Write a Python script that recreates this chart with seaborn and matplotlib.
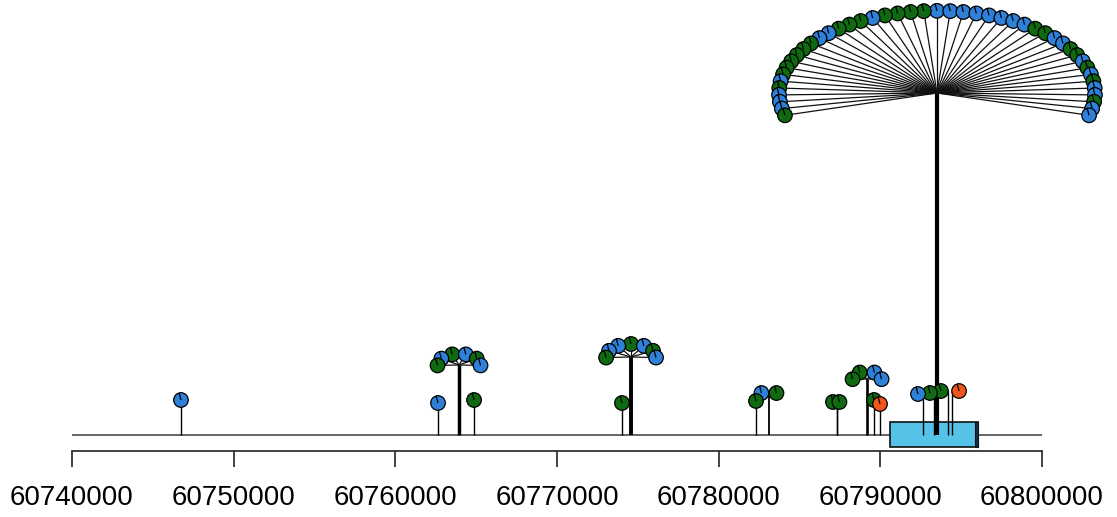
import numpy as np
import pandas as pd
import matplotlib
matplotlib.use("Agg")
import matplotlib.pyplot as plt
from matplotlib.path import Path
from matplotlib.patches import Rectangle
import seaborn as sns

# genomic axis
axis_ticks = [60740000, 60750000, 60760000, 60770000, 60780000, 60790000, 60800000]

# mutation sites: genomic position of the stem, drawn head position, stem height
site_pos = [60746740, 60762640, 60763940, 60764870, 60774020, 60774580, 60782310,
            60783110, 60787320, 60787320, 60789180, 60789610, 60789980, 60792640,
            60793320, 60794190, 60794430, 60793505]
head_pos = [60746740, 60762640, 60763940, 60764870, 60774020, 60774580, 60782310,
            60783110, 60787070, 60787470, 60789180, 60789610, 60789980, 60792330,
            60793070, 60793750, 60794870, 60793505]
site_height = [35, 32, 70, 35, 32, 78, 34, 42, 33, 33, 56, 35, 31, 41, 42, 44, 44, 342]

# mutation classes at each site (A, B, C), listed left to right around the fan
big_fan = ("B A A A B A B B B B B B A A B B B A B B B B "
           "A "
           "A A A A A A A B B A A B B A B A B A A B A A").split()
site_classes = [
    ["A"], ["A"], ["B", "A", "B", "A", "B", "A"], ["B"], ["B"],
    ["B", "A", "A", "B", "A", "B", "A"], ["B"], ["A", "B"], ["B"], ["B"],
    ["B", "B", "A", "A"], ["B"], ["C"], ["A"], ["B"], ["B"], ["C"], big_fan,
]

# transcript feature
feature_start, feature_end = 60790597, 60796040
feature_cap_start = 60795847

class_colors = {"A": "#2F80D8", "B": "#0F6A12", "C": "#F0561A"}

sns.set_theme(style="white")
plt.rcParams["font.family"] = ["Liberation Sans", "DejaVu Sans"]

fig_w_px, fig_h_px = 1117, 517
fig = plt.figure(figsize=(fig_w_px / 100, fig_h_px / 100), dpi=100)
ax = fig.add_axes([0, 0, 1, 1])

left_px, right_px = 72, 1042
bp_per_px = (axis_ticks[-1] - axis_ticks[0]) / (right_px - left_px)
ax.set_xlim(axis_ticks[0] - left_px * bp_per_px,
            axis_ticks[0] + (fig_w_px - left_px) * bp_per_px)
ax.set_ylim(-82, fig_h_px - 82)

# backbone line
ax.plot([axis_ticks[0], axis_ticks[-1]], [0, 0], color="#4a4a4a", lw=1.2,
        solid_capstyle="butt", zorder=1)

# feature box with its darker end piece
ax.add_patch(Rectangle((feature_start, -12), feature_end - feature_start, 25,
                       facecolor="#55C3E8", edgecolor="#111111", lw=1.2, zorder=1.5))
ax.add_patch(Rectangle((feature_cap_start, -12), feature_end - feature_cap_start, 25,
                       facecolor="#123040", edgecolor="#111111", lw=0.8, zorder=1.6))

# layout the heads of each site: singles sit on the stem, groups spread on a fan
rows = []
for x, hx, h, cls in zip(site_pos, head_pos, site_height, site_classes):
    n = len(cls)
    stem_lw = min(1.0 + 0.3 * (n - 1), 3.0)
    ax.plot([x, x], [0, h], color="black", lw=stem_lw, solid_capstyle="butt", zorder=2)
    if n == 1:
        rows.append((hx, h, cls[0]))
        continue
    a = 3.5 * n + 0.5
    b = 0.52 * a
    span = 180 + 0.7 * n
    ang = np.deg2rad(np.linspace(90 + span / 2, 90 - span / 2, n))
    xs = hx + a * np.cos(ang) * bp_per_px
    ys = h + b * np.sin(ang)
    for xi, yi, c in zip(xs, ys, cls):
        ax.plot([hx, xi], [h, yi], color="#111111", lw=0.9, zorder=2.1)
        rows.append((xi, yi, c))

heads = pd.DataFrame(rows, columns=["x", "y", "cls"])
heads = heads.sort_values("y", ascending=False, kind="stable").reset_index(drop=True)

# pie-style head: circle with one radial divider
t = np.deg2rad(105)
head_marker = Path.make_compound_path(
    Path.unit_circle(),
    Path([(0, 0), (np.cos(t), np.sin(t))], [Path.MOVETO, Path.LINETO]),
)

sns.scatterplot(data=heads, x="x", y="y", hue="cls", palette=class_colors,
                marker=head_marker, s=110, edgecolor="black", linewidth=0.9,
                legend=False, zorder=3, ax=ax)

# axis below the track
for side in ["top", "right", "left"]:
    ax.spines[side].set_visible(False)
ax.spines["bottom"].set_position(("data", -16))
ax.spines["bottom"].set_bounds(axis_ticks[0], axis_ticks[-1])
ax.spines["bottom"].set_color("#222222")
ax.spines["bottom"].set_linewidth(1.2)
ax.set_xticks(axis_ticks)
ax.set_xticklabels([str(v) for v in axis_ticks])
ax.tick_params(axis="x", direction="out", length=11.5, width=1.2, color="#222222",
               labelsize=20, labelcolor="black", pad=13, bottom=True)
ax.set_yticks([])
ax.set_xlabel("")
ax.set_ylabel("")
ax.patch.set_alpha(0)

fig.savefig("out.png", dpi=100, facecolor="white")
